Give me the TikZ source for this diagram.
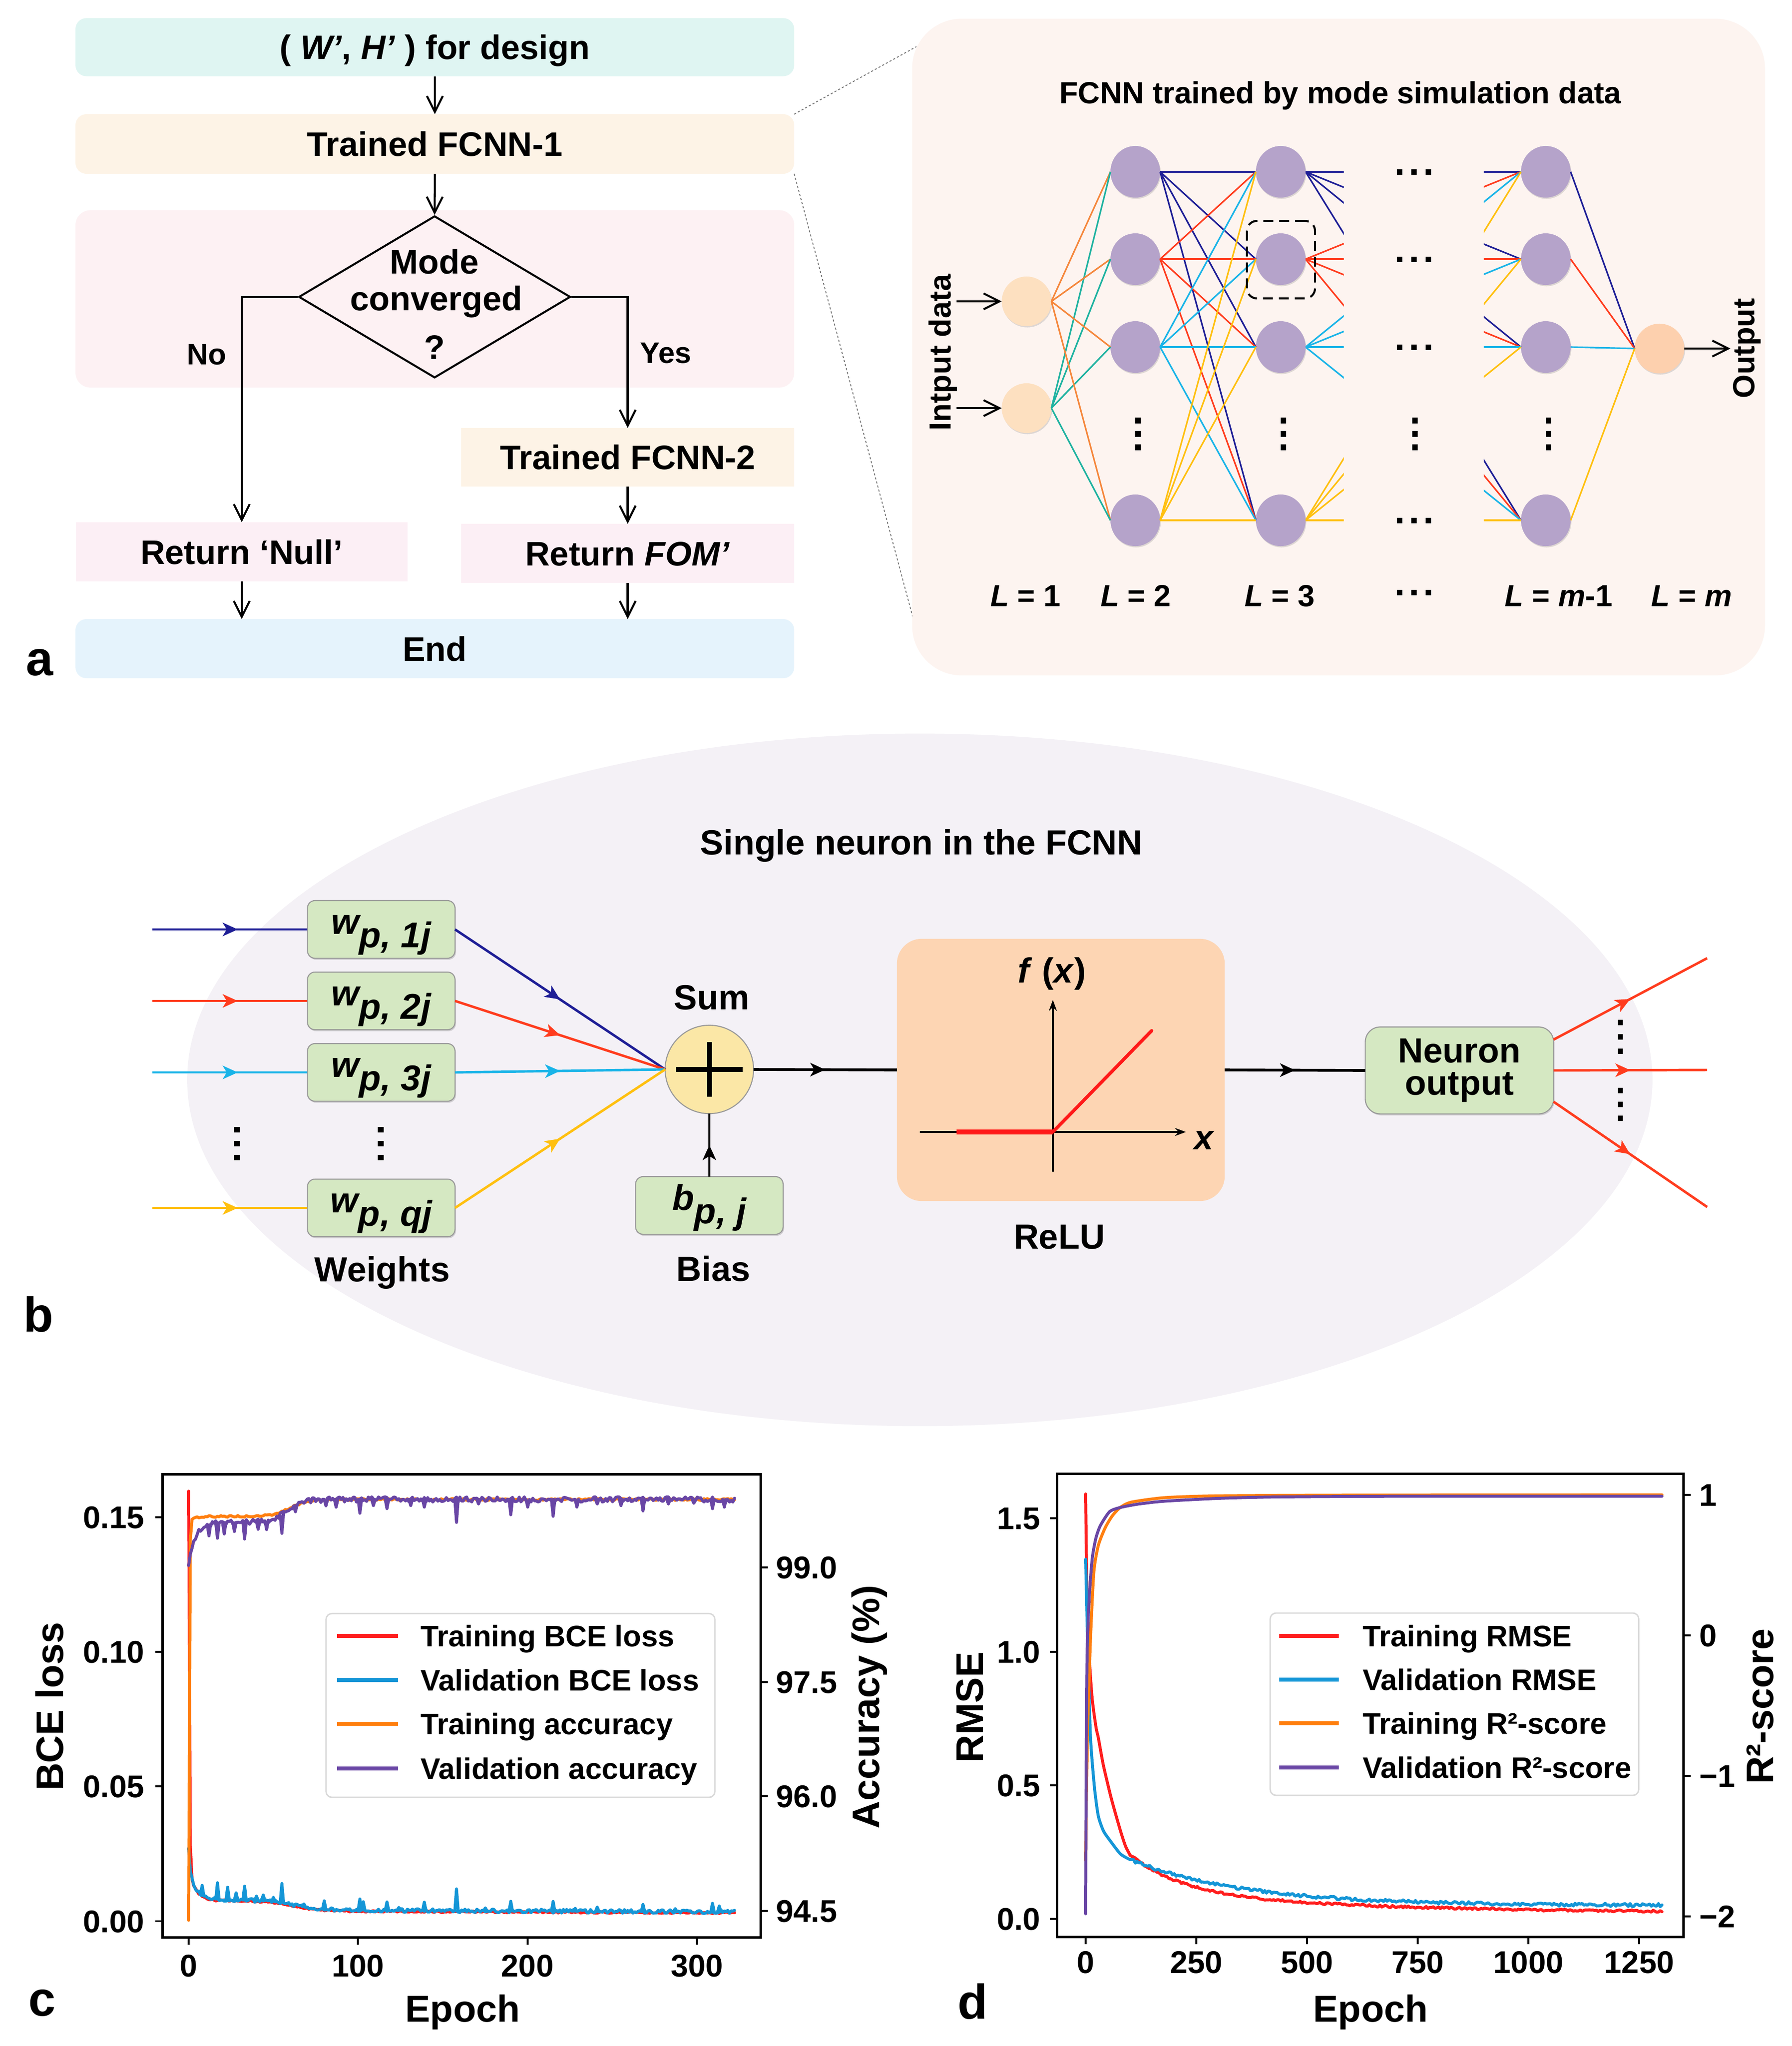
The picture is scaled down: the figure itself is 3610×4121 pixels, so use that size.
\documentclass[tikz,border=0pt]{standalone}
\usepackage{fontspec}
\setmainfont{Liberation Sans}
\usetikzlibrary{arrows.meta,decorations.markings,shapes.geometric,shadows}
\definecolor{cTop}{RGB}{223,245,242}
\definecolor{cFc}{RGB}{253,243,230}
\definecolor{cDec}{RGB}{253,241,243}
\definecolor{cRet}{RGB}{252,239,245}
\definecolor{cEnd}{RGB}{229,243,252}
\definecolor{cNet}{RGB}{253,244,240}
\definecolor{cPurp}{RGB}{181,163,202}
\definecolor{cInp}{RGB}{253,224,192}
\definecolor{cOut}{RGB}{253,208,174}
\definecolor{lNavy}{RGB}{30,30,150}
\definecolor{lRed}{RGB}{255,60,30}
\definecolor{lCyan}{RGB}{25,180,232}
\definecolor{lYel}{RGB}{255,192,15}
\definecolor{lOra}{RGB}{245,135,60}
\definecolor{lTeal}{RGB}{30,178,160}
\definecolor{cEll}{RGB}{244,241,246}
\definecolor{cGreen}{RGB}{213,232,194}
\definecolor{cSum}{RGB}{251,231,166}
\definecolor{cRelu}{RGB}{253,213,179}
\definecolor{cFun}{RGB}{255,25,25}
\definecolor{pRed}{RGB}{255,30,30}
\definecolor{pBlue}{RGB}{20,150,215}
\definecolor{pOra}{RGB}{255,127,14}
\definecolor{pPur}{RGB}{105,70,165}
\tikzset{
  T/.style 2 args={inner sep=0pt, outer sep=0pt, font=\fontsize{#1}{#1}\selectfont\bfseries, text height=#2, text depth=0pt},
  t17/.style={T={17pt}{12.17pt}},
  t175/.style={T={17.5pt}{12.53pt}},
  t18/.style={T={18pt}{12.89pt}},
  t19/.style={T={19.5pt}{13.96pt}},
  t20/.style={T={20pt}{14.32pt}},
  t215/.style={T={21.5pt}{15.39pt}},
  t22/.style={T={22pt}{15.75pt}},
  t28/.style={T={28pt}{20.05pt}},
  box/.style={rectangle, inner sep=0pt, outer sep=0pt},
  farrow/.style={line width=1.15pt, -{Straight Barb[length=0.32cm,width=0.32cm]}},
  midarrow/.style={postaction={decorate, decoration={markings, mark=at position #1 with {\arrow{Stealth[length=0.3cm,width=0.27cm,inset=0.08cm]}}}}},
  midarrow/.default=0.5,
  ew/.style={line width=0.9pt},
  bline/.style={line width=1.4pt},
  shad/.style={drop shadow={shadow xshift=0.015cm, shadow yshift=-0.025cm, opacity=0.25}},
  neu/.style={ellipse, fill=cPurp, minimum width=1.0cm, minimum height=1.04cm, inner sep=0pt, outer sep=0pt, shad},
  inp/.style={circle, fill=cInp, minimum size=1.0cm, inner sep=0pt, outer sep=0pt, shad},
  outn/.style={circle, fill=cOut, minimum size=1.0cm, inner sep=0pt, outer sep=0pt, shad},
  gbox/.style={rectangle, fill=cGreen, draw=black!40, line width=0.6pt, rounded corners=0.15cm, minimum width=2.97cm, minimum height=1.16cm, inner sep=0pt, outer sep=0pt, drop shadow={shadow xshift=0.02cm, shadow yshift=-0.03cm, opacity=0.3}, font=\fontsize{20.5pt}{20.5pt}\selectfont\bfseries\itshape},
  cl/.style={line width=1.7pt, line join=round, line cap=round},
  tk/.style={line width=1.1pt},
  frame/.style={line width=1.3pt},
}
\newcommand\wlab[2]{\raisebox{0pt}[0.6em][0.344em]{#1\raisebox{-0.38em}{#2}}}
\begin{document}
\begin{tikzpicture}[x=0.01cm, y=-0.01cm,
  declare function={
    cbase(\q)=0.0028+0.0035/(1+exp(min((\q-62)/7,9)))+0.0015*exp(-\q/200)+0.14*exp(max(-2.5*\q,-12))+0.012*exp(max(-\q/4,-12));
    cacct(\q)=99.89-0.22/(1+exp(min((\q-60)/5,9)))-0.08*exp(max(-\q/3,-12))-5.2*exp(max(-3*\q,-12));
    caccv(\q)=99.89-0.3/(1+exp(min((\q-58)/5,9)))-0.55*exp(max(-\q/4,-12));
  }]
\fill[white] (0,0) rectangle (3610,4121);
\useasboundingbox (0,0) rectangle (3610,4121);
\pgfmathsetseed{1234}

% ================= panel a : flowchart =================
\node[box, fill=cTop, rounded corners=0.22cm, minimum width=14.47cm, minimum height=1.17cm, t19] (top) at (876,95) {( \textit{W’}, \textit{H’} ) for design};
\node[box, fill=cFc, rounded corners=0.22cm, minimum width=14.47cm, minimum height=1.2cm, t19] (fc1) at (876,290) {Trained FCNN-1};
\node[box, fill=cDec, rounded corners=0.3cm, minimum width=14.47cm, minimum height=3.57cm] (decbg) at (876,602) {};
\node[diamond, draw, line width=1.15pt, minimum width=5.47cm, minimum height=3.26cm, inner sep=0pt] (dia) at (875.5,598) {};
\node[t19] (m1) at (875,527) {Mode};
\node[t19] (m2) at (879,601) {converged};
\node[t19] (m3) at (875,699) {?};
\node[t17] (no) at (416,713) {No};
\node[t17] (yes) at (1341,710) {Yes};
\node[box, fill=cFc, minimum width=6.71cm, minimum height=1.18cm, t19] (fc2) at (1264.5,921) {Trained FCNN-2};
\node[box, fill=cRet, minimum width=6.68cm, minimum height=1.19cm, t19] (null) at (487,1111.5) {Return ‘Null’};
\node[box, fill=cRet, minimum width=6.71cm, minimum height=1.19cm, t19] (fom) at (1264.5,1114.5) {Return \textit{FOM’}};
\node[box, fill=cEnd, rounded corners=0.22cm, minimum width=14.47cm, minimum height=1.19cm, t19] (endb) at (876,1306.5) {End};
\draw[farrow] (top.south) -- (fc1.north);
\draw[farrow] (fc1.south) -- (dia.north);
\draw[farrow] (dia.west) -| (null.north);
\draw[farrow] (dia.east) -| (fc2.north);
\draw[farrow] (fc2.south) -- (fom.north);
\draw[farrow] (null.south) -- (null.south |- endb.north);
\draw[farrow] (fom.south) -- (fom.south |- endb.north);
\node[t28, anchor=base] (la) at (80,1360) {a};

% zoom lines
\coordinate (zt) at (1846,94);
\coordinate (zb) at (1850,1285);
\draw[black!55, line width=0.5pt, dash pattern=on 1.2pt off 1.2pt] (fc1.north east) -- (zt);
\draw[black!55, line width=0.5pt, dash pattern=on 1.2pt off 1.2pt] (fc1.south east) -- (zb);

% ================= panel a : network =================
\node[box, fill=cNet, rounded corners=1cm, minimum width=17.17cm, minimum height=13.22cm] (netbg) at (2696.5,699) {};
\node[t175] (ntitle) at (2700,186) {FCNN trained by mode simulation data};

\node[inp] (i1) at (2068,607) {};
\node[inp] (i2) at (2068,822) {};
\foreach \k/\yy in {1/346,2/522,3/699,4/1048} {
  \node[neu] (a\k) at (2287,\yy) {};
  \node[neu] (b\k) at (2580,\yy) {};
  \node[neu] (c\k) at (3114,\yy) {};
}
\node[outn] (o) at (3343,702) {};

\foreach \k in {1,...,4} {
  \draw[lOra, ew] (i1.east) -- (a\k.west);
  \draw[lTeal, ew] (i2.east) -- (a\k.west);
}
\foreach \j/\c in {1/lNavy,2/lRed,3/lCyan,4/lYel} {
  \foreach \k in {1,...,4} { \draw[\c, ew] (a\j.east) -- (b\k.west); }
}
\begin{scope}
  \clip (2630,0) rectangle (2707,1400);
  \foreach \j/\c in {1/lNavy,2/lRed,3/lCyan,4/lYel} {
    \foreach \k in {1,...,4} { \draw[\c, ew] (b\j.east) -- (c\k.west); }
  }
\end{scope}
\begin{scope}
  \clip (2989,0) rectangle (3066,1400);
  \foreach \j/\c in {1/lNavy,2/lRed,3/lCyan,4/lYel} {
    \foreach \k in {1,...,4} { \draw[\c, ew] (b\j.east) -- (c\k.west); }
  }
\end{scope}
\draw[lNavy, ew] (c1.east) -- (o.west);
\draw[lRed, ew] (c2.east) -- (o.west);
\draw[lCyan, ew] (c3.east) -- (o.west);
\draw[lYel, ew] (c4.east) -- (o.west);

\node[rectangle, draw=black, line width=1.15pt, dash pattern=on 0.2cm off 0.12cm, rounded corners=0.2cm, minimum width=1.37cm, minimum height=1.56cm, inner sep=0pt] (sel) at (2580.5,523) {};

\coordinate (in1s) at (1927,607);
\coordinate (in2s) at (1927,822);
\coordinate (oend) at (3486,702);
\draw[farrow] (in1s) -- (i1.west);
\draw[farrow] (in2s) -- (i2.west);
\draw[farrow] (o.east) -- (oend);
\node[t175, rotate=90] (intxt) at (1893,710) {Intput data};
\node[t175, rotate=90] (outtxt) at (3512,702) {Output};

% dots
\foreach \yy in {346,522,699,1048,1193} {
  \foreach \xx in {2819,2848,2877} { \fill (\xx-5.5,\yy-5.5) rectangle (\xx+5.5,\yy+5.5); }
}
\foreach \xx in {2292,2585,2850,3119} {
  \foreach \yy in {847,874,901} { \fill (\xx-5.5,\yy-6) rectangle (\xx+5.5,\yy+6); }
}
\node[t175] (L1) at (2066,1199) {\textit{L} = 1};
\node[t175] (L2) at (2288,1199) {\textit{L} = 2};
\node[t175] (L3) at (2578,1199) {\textit{L} = 3};
\node[t175] (Lm1) at (3140,1199) {\textit{L} = \textit{m}-1};
\node[t175] (Lm) at (3408,1199) {\textit{L} = \textit{m}};

% ================= panel b =================
\fill[cEll] (1853,2175) ellipse [x radius=14.75cm, y radius=6.97cm];
\node[t20] (btitle) at (1856,1696) {Single neuron in the FCNN};

\node[gbox] (w1) at (768,1872) {\wlab{w}{p, 1j}};
\node[gbox] (w2) at (768,2016) {\wlab{w}{p, 2j}};
\node[gbox] (w3) at (768,2160) {\wlab{w}{p, 3j}};
\node[gbox] (wq) at (768,2433) {\wlab{w}{p, qj}};
\node[gbox] (bias) at (1429,2428) {\wlab{b}{p, j}};
\node[circle, fill=cSum, draw=black!40, line width=0.6pt, minimum size=1.78cm, inner sep=0pt, outer sep=0pt] (sum) at (1429,2154) {};
\draw[line width=2.8pt] (1362,2154) -- (1496,2154);
\draw[line width=2.8pt] (1429,2099) -- (1429,2209);
\node[t20] (sumlbl) at (1434,2008) {Sum};
\node[t20] (biaslbl) at (1437,2555) {Bias};
\node[t20] (wlbl) at (770,2556) {Weights};

\coordinate (s1) at (307,1872);
\coordinate (s2) at (307,2016);
\coordinate (s3) at (307,2160);
\coordinate (sq) at (307,2433);
\draw[lNavy, bline, midarrow=0.55] (s1) -- (w1.west);
\draw[lRed, bline, midarrow=0.55] (s2) -- (w2.west);
\draw[lCyan, bline, midarrow=0.55] (s3) -- (w3.west);
\draw[lYel, bline, midarrow=0.55] (sq) -- (wq.west);
\draw[lNavy, bline, midarrow] (w1.east) -- (sum.west);
\draw[lRed, bline, midarrow] (w2.east) -- (sum.west);
\draw[lCyan, bline, midarrow] (w3.east) -- (sum.west);
\draw[lYel, bline, midarrow] (wq.east) -- (sum.west);
\draw[black, bline, midarrow] (bias.north) -- (sum.south);
\foreach \xx in {477,767} {
  \foreach \yy in {2275,2303,2331} { \fill (\xx-6,\yy-5.5) rectangle (\xx+6,\yy+5.5); }
}

\node[rectangle, fill=cRelu, rounded corners=0.5cm, minimum width=6.6cm, minimum height=5.28cm, inner sep=0pt, outer sep=0pt] (relu) at (2137,2155) {};
\draw[black, line width=1.6pt, midarrow] (sum.east) -- (relu.west);
\draw[line width=1.1pt, -{Stealth[length=0.22cm,width=0.16cm]}] (2121,2360) -- (2121,2014);
\draw[line width=1.1pt, -{Stealth[length=0.22cm,width=0.16cm]}] (1853,2280) -- (2389,2280);
\draw[cFun, line width=2.8pt] (1927,2280) -- (2121,2280);
\draw[cFun, line width=1.9pt, line cap=round] (2121,2280) -- (2320,2076);
\node[T={20pt}{14.32pt}, anchor=base] (fx) at (2119,1979) {\textit{f} (\textit{x})};
\node[t20, anchor=base] (xl) at (2426,2315) {\textit{x}};
\node[t20] (relulbl) at (2134,2490) {ReLU};

\node[gbox, minimum width=3.79cm, minimum height=1.75cm, rounded corners=0.3cm, align=center, font=\fontsize{20pt}{18.5pt}\selectfont\bfseries] (nout) at (2940,2156) {Neuron\\output};
\draw[black, line width=1.6pt, midarrow] (relu.east) -- (nout.west);
\coordinate (oT) at (3439,1930);
\coordinate (oM) at (3439,2155);
\coordinate (oB) at (3439,2431);
\draw[lRed, bline, midarrow] ([yshift=0.62cm]nout.east) -- (oT);
\draw[lRed, bline, midarrow] (nout.east) -- (oM);
\draw[lRed, bline, midarrow] ([yshift=-0.63cm]nout.east) -- (oB);
\foreach \yy in {2059,2088,2117,2196,2224,2252} { \fill (3264-5,\yy-5.5) rectangle (3264+5,\yy+5.5); }
\node[t28, anchor=base] (lb) at (78,2682) {b};

% ================= panel c =================
\begin{scope}[shift={(380,3869.5)}, x=0.03413cm, y=54.25cm]
  \draw[pRed, cl] plot[domain=0:322, samples=323, variable=\e] ({\e},{cbase(\e)+0.0003*rand});
  \draw[pBlue, cl] plot[domain=0:322, samples=323, variable=\e] ({\e},{cbase(\e)-0.133*exp(max(-2.5*\e,-12))+0.0004+0.0007*rand});
  \foreach \sp/\h in {8/0.004,17/0.0065,23/0.005,28/0.003,33/0.0055,40/0.002,44/0.0025,50/0.002,55/0.0075,68/0.0015,80/0.0035,101/0.0045,103/0.0035,117/0.0035,124/0.0015,139/0.0035,158/0.0085,175/0.0015,190/0.004,215/0.004,228/0.0015,241/0.002,268/0.003,287/0.0015,309/0.0035,313/0.0025} {
    \draw[pBlue, cl] ({\sp-1},{cbase(\sp-1)+0.0004}) -- ({\sp},{cbase(\sp)+\h}) -- ({\sp+1},{cbase(\sp+1)+0.0004});
  }
\end{scope}
\begin{scope}[shift={(380,3157)}, x=0.03413cm, y=1.537cm]
  \draw[pOra, cl] plot[domain=0:322, samples=323, variable=\e] ({\e},{cacct(\e)-99+0.012*rand});
  \draw[pPur, cl] plot[domain=0:322, samples=323, variable=\e] ({\e},{caccv(\e)-99+0.035*rand});
  \foreach \dp/\h in {12/0.15,17/0.2,21/0.15,27/0.12,33/0.22,41/0.1,46/0.12,55/0.25,63/0.08,81/0.08,87/0.1,101/0.18,109/0.08,117/0.12,131/0.08,139/0.1,158/0.3,171/0.06,190/0.2,200/0.1,215/0.22,229/0.1,241/0.06,255/0.08,268/0.15,283/0.06,298/0.05,309/0.12,316/0.1} {
    \draw[pPur, cl] ({\dp-1},{caccv(\dp-1)-99}) -- ({\dp},{caccv(\dp)-99-\h}) -- ({\dp+1},{caccv(\dp+1)-99});
  }
\end{scope}
\node[rectangle, fill=white, draw=black!15, line width=0.8pt, rounded corners=0.12cm, minimum width=7.83cm, minimum height=3.7cm, inner sep=0pt] (legc) at (1048.5,3435) {};
\foreach \yy/\col/\txt [count=\i] in {3295/pRed/Training BCE loss,3384/pBlue/Validation BCE loss,3472/pOra/Training accuracy,3562/pPur/Validation accuracy} {
  \draw[\col, line width=2.3pt] (679,\yy) -- (802,\yy);
  \node[t17, anchor=west] (lc\i) at (847,\yy) {\txt};
}
\node[box, draw, frame, minimum width=12.04cm, minimum height=9.32cm] (axc) at (930,3436) {};
\foreach \v/\lab [count=\i] in {0.15/0.15,0.10/0.10,0.05/0.05,0/0.00} {
  \draw[tk] (328,{3869.5-5425*\v}) -- ++(-15,0);
  \node[t18, anchor=east] (cly\i) at (291,{3869.5-5425*\v}) {\lab};
}
\foreach \a [count=\i] in {99.0,97.5,96.0,94.5} {
  \draw[tk] (1532,{3157+(99-\a)*153.7}) -- ++(15,0);
  \node[t18, anchor=west] (cry\i) at (1563,{3157+(99-\a)*153.7}) {\a};
}
\foreach \e [count=\i] in {0,100,200,300} {
  \draw[tk] ({380+3.413*\e},3902) -- ++(0,15);
  \node[t18] (clx\i) at ({380+3.413*\e},3959) {\e};
}
\node[t215] (cxl) at (932,4045) {Epoch};
\node[t22, rotate=90] (cyl) at (100,3437) {BCE loss};
\node[t22, rotate=90] (cyr) at (1744,3438) {Accuracy (\%)};
\node[t28, anchor=base] (lc) at (85,4060) {c};

% ================= panel d =================
\begin{scope}[shift={(2187,3865)}, x=0.00892cm, y=5.38cm]
  \draw[pRed, cl] plot[smooth, tension=0.4] coordinates {(0,1.59) (3,1.22) (8.5,0.97) (15,0.82) (23.5,0.716) (28.6,0.678) (40,0.575) (58,0.45) (78.5,0.33) (90,0.272) (100,0.24)};
  \draw[pRed, cl] plot[domain=100:1300, samples=301, variable=\e] ({\e},{0.022+0.139*exp(-(\e-100)/116)+0.079*exp(-(\e-100)/490)+0.004*rand});
  \draw[pBlue, cl] plot[smooth, tension=0.4] coordinates {(0,1.346) (5,1.0) (11,0.678) (20,0.49) (28.6,0.385) (40,0.33) (53.8,0.296) (78.6,0.243) (100,0.222)};
  \draw[pBlue, cl] plot[domain=100:1300, samples=301, variable=\e] ({\e},{0.05+0.172*exp(-(\e-100)/255)+0.006*rand});
\end{scope}
\begin{scope}[shift={(2187,3294)}, x=0.00892cm, y=2.83cm]
  \draw[pOra, cl] plot[smooth, tension=0.4] coordinates {(0,-1.6) (2,-1.1) (5,-0.6) (11,-0.02) (18.5,0.45) (28.6,0.64) (44,0.765) (60,0.85) (78,0.91) (103,0.948) (178,0.98) (300,0.993) (600,0.998) (1300,1.0)};
  \draw[pPur, cl] plot[smooth, tension=0.4] coordinates {(0,-1.98) (1.5,-0.8) (3.5,-0.1) (8.5,0.29) (15,0.55) (23,0.69) (33,0.78) (54,0.88) (78,0.91) (120,0.935) (178,0.955) (300,0.975) (429,0.985) (700,0.99) (1300,0.99)};
\end{scope}
\node[rectangle, fill=white, draw=black!15, line width=0.8pt, rounded corners=0.12cm, minimum width=7.42cm, minimum height=3.67cm, inner sep=0pt] (legd) at (2930,3432.5) {};
\foreach \yy/\col/\txt [count=\i] in {3295/pRed/Training RMSE,3383/pBlue/Validation RMSE,3471/pOra/Training R²-score,3560/pPur/Validation R²-score} {
  \draw[\col, line width=2.3pt] (2577,\yy) -- (2697,\yy);
  \node[t17, anchor=west] (ld\i) at (2745,\yy) {\txt};
}
\node[box, draw, frame, minimum width=12.61cm, minimum height=9.32cm] (axd) at (2760.5,3435) {};
\foreach \v [count=\i] in {1.5,1.0,0.5,0.0} {
  \draw[tk] (2130,{3865-538*\v}) -- ++(-15,0);
  \node[t18, anchor=east] (dly\i) at (2096,{3865-538*\v}) {\v};
}
\foreach \r/\lab [count=\i] in {1/1,0/0,-1/−1,-2/−2} {
  \draw[tk] (3391,{3294-283*\r}) -- ++(15,0);
  \node[t18, anchor=west] (dry\i) at (3423,{3294-283*\r}) {\lab};
}
\foreach \e [count=\i] in {0,250,500,750,1000,1250} {
  \draw[tk] ({2187+0.892*\e},3901) -- ++(0,15);
  \node[t18] (dlx\i) at ({2187+0.892*\e},3952) {\e};
}
\node[t215] (dxl) at (2761,4045) {Epoch};
\node[t22, rotate=90] (dyl) at (1953,3439) {RMSE};
\node[t22, rotate=90] (dyr) at (3545,3437) {R²-score};
\node[t28, anchor=base] (ld) at (1960,4066) {d};
\end{tikzpicture}
\end{document}
